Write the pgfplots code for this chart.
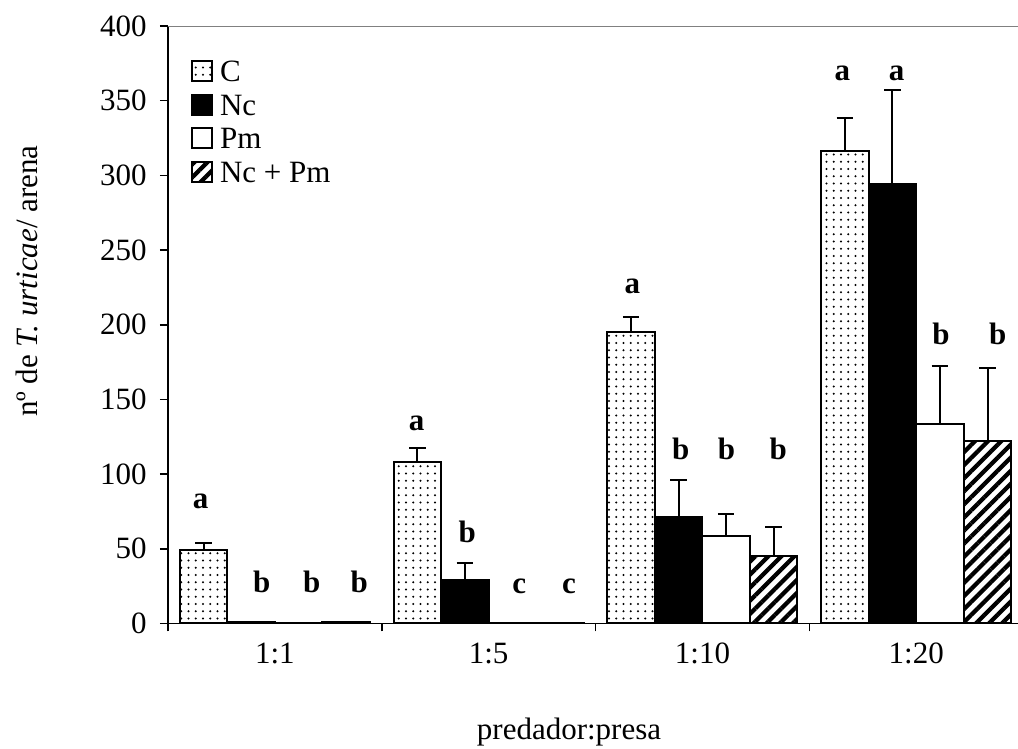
\documentclass[border=0pt]{standalone}
\usepackage{fontspec}
\setmainfont{Liberation Serif}
\usepackage{pgfplots}
\pgfplotsset{compat=1.18}
\usetikzlibrary{patterns.meta}
\begin{document}
\fontsize{12.4pt}{14pt}\selectfont
\begin{tikzpicture}
\path[use as bounding box] (-67.2pt,-50.2pt) rectangle (340pt,249.4pt);
\begin{axis}[
  at={(0pt,0pt)}, anchor=south west,
  scale only axis, width=340pt, height=239pt,
  xmin=-0.5, xmax=3.476, ymin=0, ymax=400,
  axis x line*=bottom, axis y line*=left,
  axis line style={line width=0.7pt},
  ytick={0,50,...,400},
  /pgf/number format/assume math mode=true,
  tick align=outside, major tick length=3.2pt,
  tick style={line width=0.6pt, black},
  xtick={-0.5,0.5,1.5,2.5}, xticklabels={},
  extra x ticks={0,1,2,3},
  extra x tick labels={1:1,1:5,1:10,1:20},
  extra x tick style={major tick length=0pt, xticklabel style={yshift=-3.6pt}},
  yticklabel style={xshift=-1pt},
  xlabel={predador:presa},
  xlabel style={at={(rel axis cs:0.4718,-0.181)}, anchor=center},
  ylabel={nº de \textit{T. urticae}/ arena},
  ylabel style={at={(rel axis cs:-0.1659,0.573)}, anchor=center},
  legend style={draw=none, fill=none, at={(rel axis cs:0.026,0.945)}, anchor=north west,
    inner sep=0pt, row sep=0pt, column sep=3pt,
    nodes={inner sep=0pt, text height=9pt, text depth=4.4pt}},
  legend cell align=left,
  legend image code/.code={\draw[#1,/tikz/.cd,line width=0.8pt] (0pt,-2pt) rectangle (8pt,6pt);},
  error bars/y dir=plus, error bars/y explicit,
  error bars/error bar style={line width=0.8pt, black},
  error bars/error mark options={line width=0.8pt, black, mark size=3.3pt, rotate=90},
]
\draw[gray, line width=0.7pt] (rel axis cs:0,1) -- (rel axis cs:1,1);
% bars are placed at group + offset (groups at 0,1,2,3)
\addplot[ybar, bar width=0.2222, bar shift=0, draw=black, line width=0.8pt,
  pattern={Dots[distance=2.9pt,radius=0.45pt]}, pattern color=black]
  coordinates {(-0.3333,49) +- (0,5) (0.6667,108.3) +- (0,9.4) (1.6667,195.3) +- (0,9.7) (2.6667,316.5) +- (0,22.1)};
\addlegendentry{C}
\addplot[ybar, bar width=0.2222, bar shift=0, draw=black, fill=black, line width=0.8pt]
  coordinates {(-0.1111,0.8) +- (0,0) (0.8889,29.1) +- (0,11.6) (1.8889,71.3) +- (0,25) (2.8889,294.4) +- (0,62.7)};
\addlegendentry{Nc}
\addplot[ybar, bar width=0.2222, bar shift=0, draw=black, fill=white, line width=0.8pt]
  coordinates {(0.1111,0.3) +- (0,0) (1.1111,0.3) +- (0,0) (2.1111,58.6) +- (0,14.7) (3.1111,133.7) +- (0,38.9)};
\addlegendentry{Pm}
\addplot[ybar, bar width=0.2222, bar shift=0, draw=black, line width=0.8pt,
  pattern={Lines[angle=45,distance=3.7pt,line width=1.7pt]}, pattern color=black]
  coordinates {(0.3333,1.2) +- (0,0) (1.3333,0.5) +- (0,0) (2.3333,45.4) +- (0,19.4) (3.3333,122.3) +- (0,48.5)};
\addlegendentry{Nc + Pm}
\begin{scope}[every node/.style={font=\bfseries, anchor=base}]
\node at (axis cs:-0.347,77.1) {a};
\node at (axis cs:-0.062,20.6) {b};
\node at (axis cs:0.172,20.6) {b};
\node at (axis cs:0.395,20.6) {b};
\node at (axis cs:0.663,129.5) {a};
\node at (axis cs:0.900,54.1) {b};
\node at (axis cs:1.143,20.2) {c};
\node at (axis cs:1.376,20.2) {c};
\node at (axis cs:1.672,221) {a};
\node at (axis cs:1.898,110.1) {b};
\node at (axis cs:2.113,110.1) {b};
\node at (axis cs:2.355,110.1) {b};
\node at (axis cs:2.654,363.8) {a};
\node at (axis cs:2.908,363.8) {a};
\node at (axis cs:3.116,187.1) {b};
\node at (axis cs:3.381,187.1) {b};
\end{scope}
\end{axis}
\end{tikzpicture}
\end{document}
